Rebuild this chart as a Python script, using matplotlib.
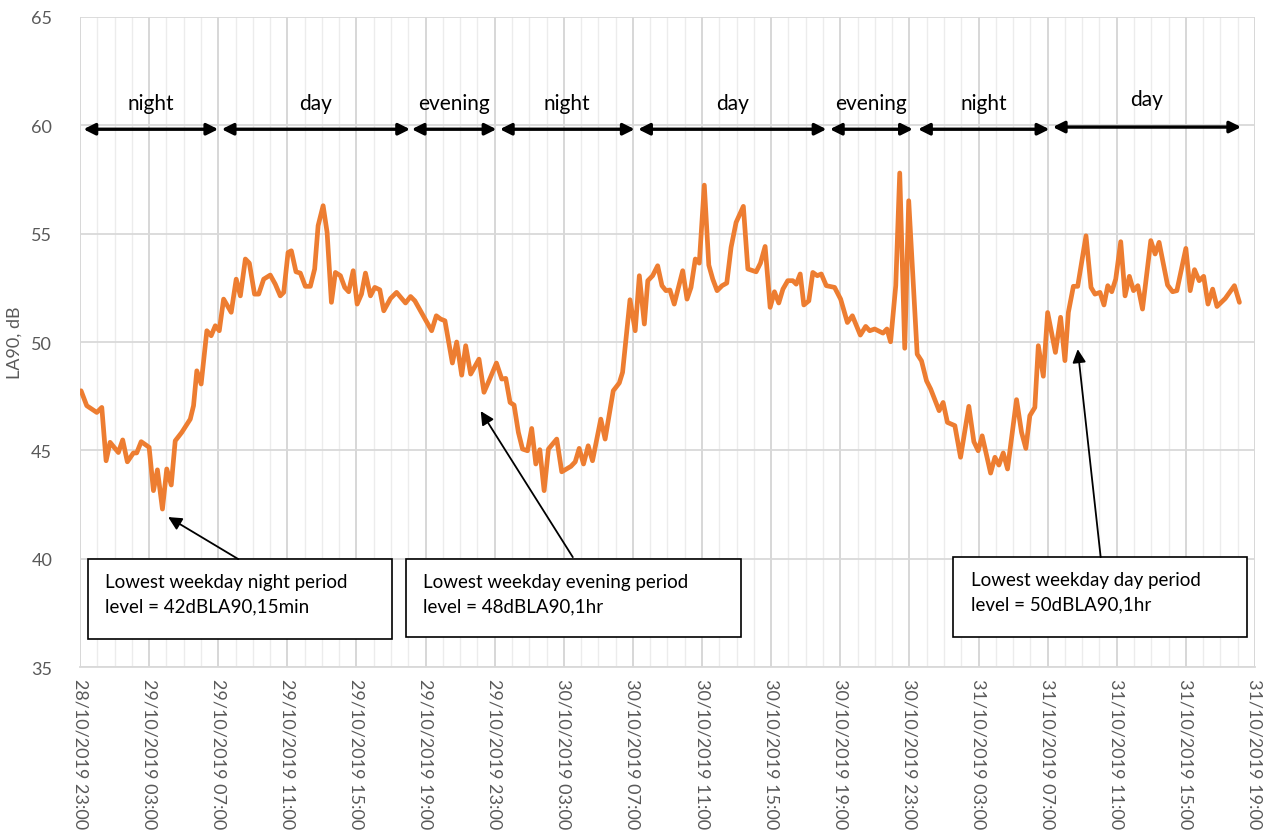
import matplotlib
matplotlib.use("Agg")
import matplotlib.pyplot as plt
from matplotlib.patches import Rectangle
from matplotlib.ticker import MultipleLocator
import pandas as pd

plt.rcParams["font.family"] = ["Lato", "DejaVu Sans"]

# ── Data: hours since 28/10/2019 23:00, LA90 in dB ───────────────────────────
HOURS = [
    0.06, 0.39, 0.97, 1.26, 1.51, 1.74, 2.22, 2.47, 2.74, 3.09, 3.28, 3.54, 4.0,
    4.25, 4.48, 4.77, 5.02, 5.28, 5.51, 5.89, 6.38, 6.57, 6.76, 7.01, 7.34, 7.59,
    7.83, 8.06, 8.31, 8.75, 9.04, 9.28, 9.57, 9.8, 10.1, 10.34, 10.63, 11.01,
    11.3, 11.59, 11.79, 12.04, 12.23, 12.5, 12.75, 13.04, 13.33, 13.58, 13.78,
    14.07, 14.3, 14.55, 14.78, 15.07, 15.32, 15.55, 15.81, 16.04, 16.29, 16.52,
    16.81, 17.06, 17.35, 17.58, 17.97, 18.32, 18.84, 19.13, 19.38, 19.81, 20.35,
    20.62, 20.87, 21.12, 21.55, 21.8, 22.09, 22.32, 22.61, 23.09, 23.38, 23.67,
    24.1, 24.41, 24.64, 24.89, 25.12, 25.37, 25.61, 25.9, 26.14, 26.38, 26.61,
    26.86, 27.11, 27.59, 27.88, 28.41, 28.66, 28.89, 29.14, 29.41, 29.66, 30.14,
    30.39, 30.86, 31.21, 31.4, 31.83, 32.13, 32.37, 32.66, 32.86, 33.14, 33.43,
    33.68, 33.91, 34.14, 34.39, 34.88, 35.13, 35.36, 35.61, 35.84, 36.13, 36.39,
    36.62, 36.87, 37.16, 37.43, 37.68, 37.97, 38.39, 38.65, 39.13, 39.38, 39.65,
    39.94, 40.19, 40.44, 40.68, 40.96, 41.25, 41.45, 41.68, 41.89, 42.18, 42.41,
    42.67, 42.9, 43.19, 43.67, 44.02, 44.41, 44.7, 45.16, 45.47, 45.7, 45.99,
    46.47, 46.7, 46.91, 47.21, 47.44, 47.73, 47.96, 48.45, 48.7, 48.99, 49.23,
    49.72, 49.95, 50.2, 50.63, 50.96, 51.44, 51.73, 51.98, 52.21, 52.7, 52.95,
    53.18, 53.43, 53.68, 54.2, 54.49, 54.74, 54.97, 55.26, 55.46, 55.75, 56.0,
    56.45, 56.75, 57.0, 57.2, 57.49, 57.74, 58.22, 58.51, 58.74, 59.03, 59.26,
    59.48, 59.71, 59.94, 60.23, 60.48, 60.73, 60.97, 61.22, 61.49, 61.97, 62.22,
    62.45, 62.94, 63.23, 63.48, 64.0, 64.25, 64.5, 64.77, 65.03, 65.28, 65.55,
    65.8, 66.28, 66.81, 67.1,
]
LA90 = [
    47.75, 47.06, 46.75, 46.98, 44.52, 45.37, 44.9, 45.48, 44.47, 44.88, 44.88,
    45.4, 45.14, 43.14, 44.1, 42.29, 44.14, 43.4, 45.44, 45.83, 46.44, 47.06,
    48.67, 48.06, 50.52, 50.29, 50.75, 50.52, 51.98, 51.37, 52.9, 52.13, 53.83,
    53.64, 52.21, 52.21, 52.9, 53.09, 52.67, 52.13, 52.29, 54.13, 54.21, 53.24,
    53.18, 52.57, 52.57, 53.37, 55.37, 56.29, 55.06, 51.83, 53.21, 53.06, 52.52,
    52.32, 53.29, 51.75, 52.21, 53.18, 52.13, 52.52, 52.41, 51.44, 52.01, 52.29,
    51.8, 52.1, 51.9, 51.29, 50.52, 51.21, 51.06, 50.98, 49.03, 50.0, 48.47,
    49.83, 48.52, 49.21, 47.68, 48.21, 49.03, 48.29, 48.32, 47.21, 47.09, 45.83,
    45.06, 44.98, 46.01, 44.37, 45.03, 43.14, 45.06, 45.52, 44.01, 44.26, 44.47,
    45.09, 44.37, 45.21, 44.52, 46.44, 45.52, 47.75, 48.11, 48.6, 51.95, 50.52,
    53.06, 50.83, 52.83, 53.06, 53.52, 52.6, 52.37, 52.4, 51.75, 53.29, 51.98,
    52.52, 53.83, 53.64, 57.24, 53.55, 52.9, 52.37, 52.6, 52.72, 54.37, 55.52,
    56.26, 53.37, 53.24, 53.64, 54.41, 51.6, 52.32, 51.8, 52.44, 52.83, 52.83,
    52.67, 53.14, 51.71, 51.9, 53.21, 53.06, 53.14, 52.6, 52.52, 51.98, 50.9,
    51.21, 50.32, 50.72, 50.52, 50.6, 50.41, 50.6, 50.01, 52.6, 57.8, 49.71,
    56.52, 49.44, 49.13, 48.21, 47.83, 46.83, 47.21, 46.29, 46.14, 44.68, 47.03,
    45.4, 44.98, 45.67, 43.95, 44.68, 44.32, 44.88, 44.14, 47.34, 45.83, 45.09,
    46.6, 46.98, 49.83, 48.42, 51.36, 49.52, 51.14, 49.14, 51.37, 52.57, 52.57,
    54.9, 52.52, 52.21, 52.29, 51.71, 52.6, 52.32, 52.9, 54.63, 52.13, 53.03,
    52.37, 52.6, 51.52, 54.68, 54.06, 54.6, 52.63, 52.32, 52.37, 54.32, 52.37,
    53.34, 52.83, 53.03, 51.75, 52.44, 51.64, 52.01, 52.6, 51.83,
]

START = pd.Timestamp("2019-10-28 23:00")
TICK_HOURS = list(range(0, 69, 4))
TICK_LABELS = [(START + pd.Timedelta(hours=h)).strftime("%d/%m/%Y %H:%M")
               for h in TICK_HOURS]

# assessment periods: label, start hour, end hour
PERIOD_NAMES = ["night", "day", "evening", "night", "day", "evening", "night", "day"]
PERIOD_START = [0.2, 8.2, 19.2, 24.3, 32.3, 43.4, 48.5, 56.3]
PERIOD_END = [8.0, 19.1, 24.1, 32.1, 43.2, 48.2, 56.1, 67.2]

# annotation boxes: text lines, box (x0, x1, y0, y1), arrow tip, arrow tail
NOTE_LINES = [
    ("Lowest weekday night period", "level = 42dBLA90,15min"),
    ("Lowest weekday evening period", "level = 48dBLA90,1hr"),
    ("Lowest weekday day period", "level = 50dBLA90,1hr"),
]
NOTE_BOX = [(0.46, 18.03, 36.29, 39.98), (18.84, 38.26, 36.38, 39.98),
            (50.55, 67.54, 36.38, 40.08)]
NOTE_TIP = [(5.1, 41.92), (23.19, 46.81), (57.74, 49.67)]
NOTE_TAIL = [(9.16, 39.98), (28.52, 40.07), (59.07, 40.07)]

GREY = "#595959"
ORANGE = "#ED7D31"

fig = plt.figure(figsize=(12.66, 8.37), dpi=100)
ax = fig.add_axes([0.0632, 0.2019, 0.9281, 0.7766])

ax.plot(HOURS, LA90, color=ORANGE, lw=3.4, solid_joinstyle="round",
        solid_capstyle="round", zorder=3)

ax.set_xlim(0, 68)
ax.set_ylim(35, 65)
ax.set_yticks(range(35, 66, 5))
ax.set_xticks(TICK_HOURS)
ax.set_xticklabels(TICK_LABELS, rotation=-90, ha="center", va="top")
ax.xaxis.set_minor_locator(MultipleLocator(1))
ax.tick_params(axis="both", which="both", length=0, colors=GREY, labelsize=13)
ax.tick_params(axis="y", pad=20)
ax.tick_params(axis="x", pad=8)

ax.grid(axis="x", which="major", color="#d4d4d4", lw=1.3, zorder=0)
ax.grid(axis="x", which="minor", color="#ececec", lw=1.0, zorder=0)
ax.grid(axis="y", which="major", color="#d9d9d9", lw=1.3, zorder=0)
for side in ["top", "right", "left"]:
    ax.spines[side].set_visible(False)
ax.spines["bottom"].set_color("#d9d9d9")
ax.spines["bottom"].set_linewidth(1.3)

ax.set_ylabel("LA90, dB", color=GREY, fontsize=13, labelpad=6)

# period arrows and labels
for i, name in enumerate(PERIOD_NAMES):
    last = i == len(PERIOD_NAMES) - 1
    y_arrow = 59.92 if last else 59.82
    y_text = 61.2 if last else 61.03
    ax.annotate("", xy=(PERIOD_END[i], y_arrow), xytext=(PERIOD_START[i], y_arrow),
                arrowprops=dict(arrowstyle="<|-|>", color="black", lw=2.4,
                                mutation_scale=17, shrinkA=0, shrinkB=0),
                zorder=4)
    ax.text((PERIOD_START[i] + PERIOD_END[i]) / 2, y_text, name, fontsize=15,
            ha="center", va="center", color="black", zorder=4)

# annotation boxes with arrows
for lines, (x0, x1, y0, y1), tip, tail in zip(NOTE_LINES, NOTE_BOX, NOTE_TIP, NOTE_TAIL):
    ax.add_patch(Rectangle((x0, y0), x1 - x0, y1 - y0, facecolor="white",
                           edgecolor="black", lw=1.2, zorder=5))
    ax.text(x0 + 1.0, y1 - 1.05, lines[0], fontsize=13.5, ha="left", va="center",
            color="black", zorder=6)
    ax.text(x0 + 1.0, y1 - 2.15, lines[1], fontsize=13.5, ha="left", va="center",
            color="black", zorder=6)
    ax.annotate("", xy=tip, xytext=tail,
                arrowprops=dict(arrowstyle="-|>", color="black", lw=1.3,
                                mutation_scale=20, shrinkA=0, shrinkB=0),
                zorder=6)

fig.savefig("out.png", dpi=100)
